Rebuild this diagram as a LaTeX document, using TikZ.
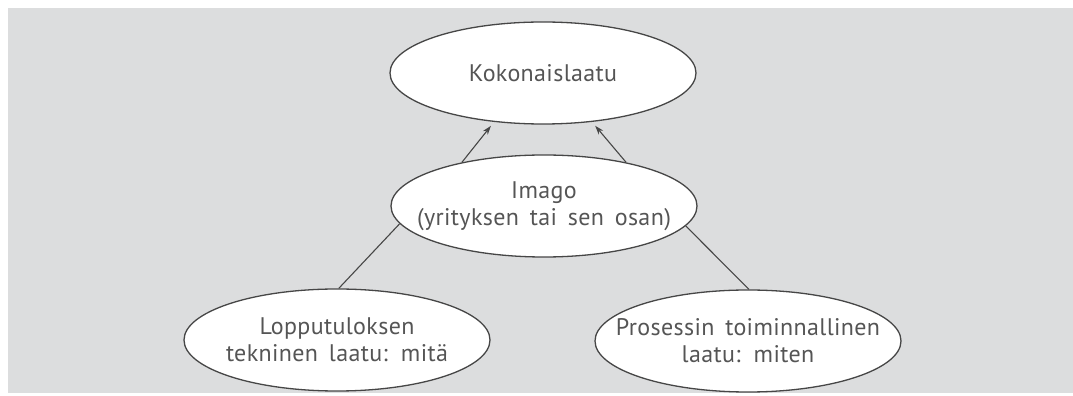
\documentclass[tikz,border=0pt]{standalone}
\usepackage{fontspec}
\setmainfont{PT Sans}[LetterSpace=1.5,WordSpace=1.6]
\usetikzlibrary{shapes.geometric,arrows.meta}
\definecolor{bggray}{RGB}{220,221,222}
\definecolor{linegray}{RGB}{70,70,70}
\definecolor{textgray}{RGB}{85,85,85}
\tikzset{
  oval/.style={ellipse, draw=linegray, line width=1.3pt, fill=white,
    minimum width=306pt, minimum height=102pt, inner xsep=-60pt, inner ysep=-20pt,
    align=center, text=textgray, font=\fontsize{24}{27}\selectfont},
  conn/.style={draw=linegray, line width=1.1pt},
  arr/.style={conn, -{Stealth[length=9pt,width=6pt]}, shorten >=5pt}
}
\begin{document}
\begin{tikzpicture}[x=1pt,y=1pt]
\useasboundingbox (0,0) rectangle (1073,396);
\fill[white] (0,0) rectangle (1073,396);
\fill[bggray] (8,3) rectangle (1073,388);
\node[oval] (top) at (543,323) {Kokonaislaatu};
\node[oval] (mid) at (544,190) {Imago\\(yrityksen tai sen osan)};
\node[oval] (bl) at (337,56) {Lopputuloksen\\tekninen laatu: mitä};
\node[oval] (br) at (748,55) {Prosessin toiminnallinen\\laatu: miten};
\draw[arr] (mid.152) -- (top.-135);
\draw[arr] (mid.28) -- (top.-45);
\draw[conn] (mid.187) -- (bl.88);
\draw[conn] (mid.-8) -- (br.89);
\end{tikzpicture}
\end{document}
